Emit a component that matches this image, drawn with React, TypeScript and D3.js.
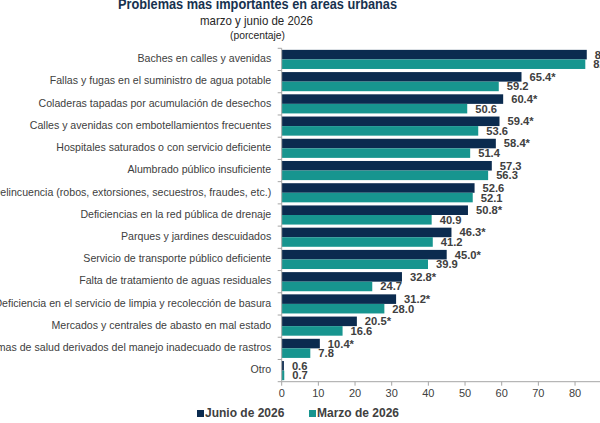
import * as d3 from 'd3';

const categories = [
  'Baches en calles y avenidas',
  'Fallas y fugas en el suministro de agua potable',
  'Coladeras tapadas por acumulación de desechos',
  'Calles y avenidas con embotellamientos frecuentes',
  'Hospitales saturados o con servicio deficiente',
  'Alumbrado público insuficiente',
  'Delincuencia (robos, extorsiones, secuestros, fraudes, etc.)',
  'Deficiencias en la red pública de drenaje',
  'Parques y jardines descuidados',
  'Servicio de transporte público deficiente',
  'Falta de tratamiento de aguas residuales',
  'Deficiencia en el servicio de limpia y recolección de basura',
  'Mercados y centrales de abasto en mal estado',
  'Problemas de salud derivados del manejo inadecuado de rastros',
  'Otro',
];

const junio = [83.2, 65.4, 60.4, 59.4, 58.4, 57.3, 52.6, 50.8, 46.3, 45.0, 32.8, 31.2, 20.5, 10.4, 0.6];
const marzo = [82.8, 59.2, 50.6, 53.6, 51.4, 56.3, 52.1, 40.9, 41.2, 39.9, 24.7, 28.0, 16.6, 7.8, 0.7];
// statistically significant change between rounds
const junioSig = [false, true, true, true, true, false, false, true, true, true, true, true, true, true, false];

const series = ['Junio de 2026', 'Marzo de 2026'];
const xTicks = [0, 10, 20, 30, 40, 50, 60, 70, 80];

const COLORS = ['#0b2b4f', '#17958f'];
const TEXT = '#404040';
const AXIS = '#a6a6a6';
const FONT = 'Arial, "Liberation Sans", sans-serif';

export default function App() {
  const width = 600;
  const height = 423;
  const left = 281.7;
  const top = 48.3;
  const bottom = 381.7;

  const x = d3.scaleLinear().domain([0, 90]).range([left, left + 330]);
  const y = d3.scaleBand<string>()
    .domain(categories)
    .range([top, bottom])
    .paddingInner(0.14)
    .paddingOuter(0.07);
  const sub = d3.scaleBand<number>()
    .domain([0, 1])
    .range([0, y.bandwidth()]);

  const step = y.step();
  const boundaries = d3.range(categories.length + 1).map(i => top + i * step);

  const fmt = (v: number, sig: boolean) => v.toFixed(1) + (sig ? '*' : '');

  return (
    <svg
      width={width}
      height={height}
      style={{ position: 'absolute', left: 0, top: 0, background: '#fff' }}
      fontFamily={FONT}
    >
      {/* titles (narrow type) */}
      <text x={118} y={9} fontSize={14.5} fontWeight={700} fill="#17324f"
        textLength={279} lengthAdjust="spacingAndGlyphs">
        Problemas mas importantes en areas urbanas
      </text>
      <text x={200} y={25} fontSize={13} fill="#262626"
        textLength={113} lengthAdjust="spacingAndGlyphs">
        marzo y junio de 2026
      </text>
      <text x={230} y={38.5} fontSize={11.5} fill="#262626"
        textLength={55} lengthAdjust="spacingAndGlyphs">
        (porcentaje)
      </text>

      {/* bars and value labels */}
      {categories.map((c, i) => {
        const y0 = y(c)!;
        const vals = [junio[i], marzo[i]];
        return (
          <g key={c}>
            {vals.map((v, k) => (
              <rect
                key={k}
                x={x(0)}
                y={y0 + sub(k)!}
                width={x(v) - x(0)}
                height={sub.bandwidth()}
                fill={COLORS[k]}
              />
            ))}
            {vals.map((v, k) => (
              <text
                key={'l' + k}
                x={x(v) + 8}
                y={y0 + sub(k)! + sub.bandwidth() / 2 + 1}
                dominantBaseline="middle"
                fontSize={11.2}
                fontWeight={700}
                fill={TEXT}
              >
                {fmt(v, k === 0 && junioSig[i])}
              </text>
            ))}
            <text
              x={left - 10.5}
              y={y0 + y.bandwidth() / 2}
              dominantBaseline="middle"
              textAnchor="end"
              fontSize={10.6}
              fill={TEXT}
            >
              {c}
            </text>
          </g>
        );
      })}

      {/* category axis */}
      <line x1={left} x2={left} y1={top} y2={bottom} stroke={AXIS} />
      {boundaries.map((b, i) => (
        <line key={i} x1={left - 4} x2={left} y1={b} y2={b} stroke={AXIS} />
      ))}

      {/* value axis */}
      <line x1={left} x2={width} y1={bottom} y2={bottom} stroke={AXIS} />
      {xTicks.map(t => (
        <g key={t}>
          <line x1={x(t)} x2={x(t)} y1={bottom} y2={bottom + 4} stroke={AXIS} />
          <text x={x(t)} y={bottom + 12} textAnchor="middle" dominantBaseline="middle" fontSize={11} fill={TEXT}>
            {t}
          </text>
        </g>
      ))}

      {/* legend */}
      {series.map((s, k) => {
        const lx = k === 0 ? 197 : 309;
        return (
          <g key={s} transform={`translate(${lx},414)`}>
            <rect x={0} y={-4} width={7} height={7} fill={COLORS[k]} />
            <text x={8} y={0} dominantBaseline="middle" fontSize={12} fontWeight={700} fill={TEXT}>
              {s}
            </text>
          </g>
        );
      })}
    </svg>
  );
}
